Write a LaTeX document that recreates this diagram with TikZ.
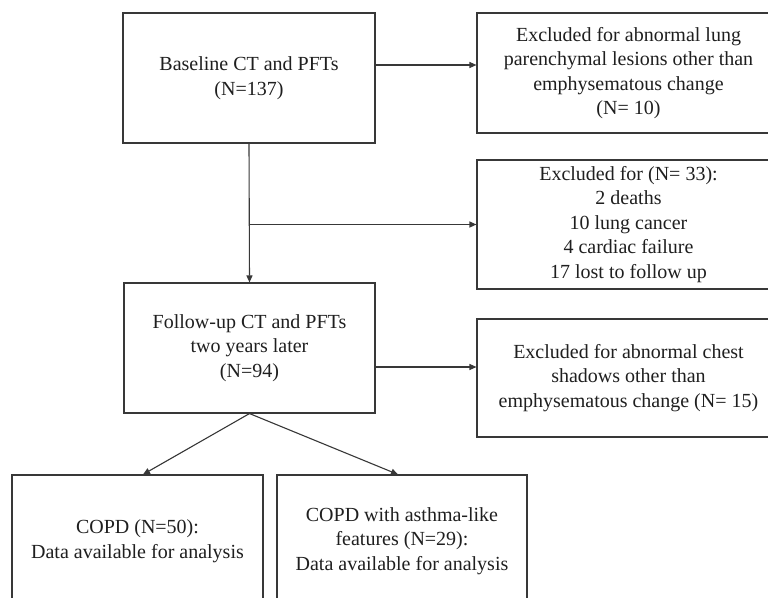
\documentclass[tikz,border=0pt]{standalone}
\usepackage{fontspec}
\setmainfont{Liberation Serif}
\usetikzlibrary{arrows.meta,calc}
\begin{document}
\begin{tikzpicture}[x=1pt,y=-1pt,
  box/.style={draw=black!78,line width=1.1pt,inner sep=0pt,align=center,
    font=\fontsize{20}{24.5}\selectfont,text=black!88},
  arr/.style={draw=black!78,line width=1.1pt,-{Triangle[length=7pt,width=6pt]}},
  ln/.style={draw=black!78,line width=1.1pt}]
\useasboundingbox (0,0) rectangle (768,597);
\clip (0,0) rectangle (768,597);
\fill[white] (0,0) rectangle (768,597);
\node[box,minimum width=252pt,minimum height=130pt] (b1) at (249,78) {Baseline CT and PFTs\\(N=137)};
\node[box,minimum width=303pt,minimum height=120pt] (b2) at (628.5,73) {Excluded for abnormal lung\\parenchymal lesions other than\\emphysematous change\\(N= 10)};
\node[box,minimum width=303pt,minimum height=129pt] (b3) at (628.5,224.5) {Excluded for (N= 33):\\2 deaths\\10 lung cancer\\4 cardiac failure\\17 lost to follow up};
\node[box,minimum width=251pt,minimum height=130pt] (b4) at (249.5,348) {Follow-up CT and PFTs\\two years later\\(N=94)};
\node[box,minimum width=303pt,minimum height=118pt] (b5) at (628.5,378) {Excluded for abnormal chest\\shadows other than\\emphysematous change (N= 15)};
\node[box,minimum width=251pt,minimum height=132pt] (b6) at (137.5,541) {COPD (N=50):\\Data available for analysis};
\node[box,minimum width=250pt,minimum height=132pt] (b7) at (402,541) {COPD with asthma-like\\features (N=29):\\Data available for analysis};
\coordinate (y1) at (0,65);
\coordinate (y2) at (0,367);
\coordinate (x6) at (143,0);
\coordinate (x7) at (398,0);
\coordinate (br) at (b1.south |- b3.west);
\draw[arr] (b1.east |- y1) -- (b2.west |- y1);
\draw[arr] (b1.south) -- (b4.north);
\draw[arr] (br) -- (b3.west);
\draw[arr] (b4.east |- y2) -- (b5.west |- y2);
\draw[arr] (b4.south) -- (b6.north -| x6);
\draw[arr] (b4.south) -- (b7.north -| x7);
\end{tikzpicture}
\end{document}
